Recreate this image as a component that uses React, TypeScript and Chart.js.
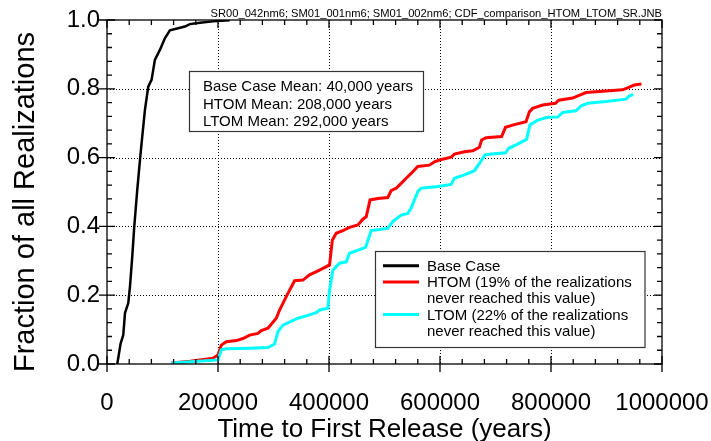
import React, { useEffect, useRef } from "react";
import { Chart, registerables } from "chart.js";

Chart.register(...registerables);

const FONT = '"Liberation Sans", Arial, Helvetica, sans-serif';

// Cumulative distribution of time to first release (years vs. fraction of realizations)
const baseCaseYears = [18500, 24600, 29300, 32400, 38300, 41400, 45500, 49100, 54500, 59400, 63500, 68300, 74300, 80300, 86300, 95300, 104300, 113300, 128200, 140300, 149300, 167300, 191200, 221200];
const baseCaseFraction = [0, 0.06, 0.084, 0.148, 0.177, 0.225, 0.312, 0.399, 0.506, 0.593, 0.661, 0.738, 0.806, 0.826, 0.884, 0.913, 0.947, 0.97, 0.976, 0.981, 0.988, 0.992, 0.996, 0.999];

const htomYears = [116000, 150000, 191000, 200000, 206000, 215000, 233000, 245000, 257000, 272000, 278000, 290000, 305000, 311000, 323000, 338000, 353000, 365000, 383000, 401000, 406000, 413000, 425000, 437000, 452000, 461000, 467000, 474000, 488000, 506000, 512000, 521000, 530000, 539000, 548000, 560000, 581000, 590000, 599000, 620000, 626000, 644000, 659000, 671000, 675000, 683000, 711000, 718000, 734000, 755000, 761000, 767000, 785000, 808000, 814000, 839000, 863000, 887000, 929000, 938000, 950000, 963000];
const htomFraction = [0.003, 0.008, 0.017, 0.026, 0.055, 0.065, 0.068, 0.074, 0.084, 0.089, 0.097, 0.104, 0.133, 0.157, 0.196, 0.242, 0.244, 0.259, 0.273, 0.288, 0.36, 0.38, 0.388, 0.397, 0.404, 0.421, 0.428, 0.477, 0.481, 0.484, 0.504, 0.511, 0.525, 0.54, 0.554, 0.574, 0.578, 0.588, 0.593, 0.601, 0.61, 0.617, 0.62, 0.63, 0.651, 0.658, 0.661, 0.688, 0.696, 0.704, 0.733, 0.743, 0.753, 0.758, 0.767, 0.773, 0.789, 0.792, 0.797, 0.803, 0.811, 0.814];

const ltomYears = [116000, 200000, 206000, 215000, 257000, 290000, 302000, 308000, 317000, 344000, 359000, 377000, 383000, 398000, 401000, 407000, 419000, 431000, 437000, 466000, 476000, 506000, 515000, 530000, 542000, 548000, 554000, 560000, 566000, 596000, 620000, 626000, 644000, 662000, 671000, 681000, 689000, 718000, 724000, 737000, 756000, 762000, 776000, 794000, 812000, 821000, 845000, 854000, 866000, 899000, 935000, 941000, 948000];
const ltomFraction = [0.003, 0.012, 0.041, 0.044, 0.046, 0.048, 0.058, 0.094, 0.113, 0.133, 0.14, 0.149, 0.157, 0.162, 0.215, 0.273, 0.293, 0.297, 0.322, 0.339, 0.388, 0.394, 0.414, 0.433, 0.438, 0.453, 0.477, 0.501, 0.511, 0.516, 0.522, 0.54, 0.55, 0.562, 0.583, 0.608, 0.61, 0.614, 0.627, 0.637, 0.653, 0.695, 0.709, 0.717, 0.718, 0.731, 0.736, 0.75, 0.758, 0.763, 0.77, 0.779, 0.784];

const xMajorTicks = [0, 200000, 400000, 600000, 800000, 1000000];
const yMajorTicks = [0, 0.2, 0.4, 0.6, 0.8, 1.0];
const xMinorStep = 40000;
const yMinorStep = 0.04;

const xAxisTitle = "Time to First Release (years)";
const yAxisTitle = "Fraction of all Realizations";
const headerText = "SR00_042nm6; SM01_001nm6; SM01_002nm6; CDF_comparison_HTOM_LTOM_SR.JNB";
const meanLines = ["Base Case Mean: 40,000 years", "HTOM Mean: 208,000 years", "LTOM Mean: 292,000 years"];
const legendLabels = [
  ["Base Case"],
  ["HTOM (19% of the realizations", "never reached this value)"],
  ["LTOM (22% of the realizations", "never reached this value)"],
];
const seriesColors = ["#000000", "#ff0000", "#00ffff"];

const toPoints = (xs: number[], ys: number[]) => xs.map((x, i) => ({ x, y: ys[i] }));

const decorPlugin = {
  id: "decor",
  beforeDatasetsDraw(chart: any) {
    const { ctx, chartArea: a, scales } = chart;
    const xs = scales.x;
    const ys = scales.y;
    ctx.save();
    ctx.strokeStyle = "#000";
    ctx.lineWidth = 1;
    ctx.setLineDash([1, 2]);
    xMajorTicks.slice(1, -1).forEach((v) => {
      const px = Math.round(xs.getPixelForValue(v)) + 0.5;
      ctx.beginPath();
      ctx.moveTo(px, a.top);
      ctx.lineTo(px, a.bottom);
      ctx.stroke();
    });
    yMajorTicks.slice(1, -1).forEach((v) => {
      const py = Math.round(ys.getPixelForValue(v)) + 0.5;
      ctx.beginPath();
      ctx.moveTo(a.left, py);
      ctx.lineTo(a.right, py);
      ctx.stroke();
    });
    ctx.restore();
  },
  afterDatasetsDraw(chart: any) {
    const { ctx, chartArea: a, scales } = chart;
    const xs = scales.x;
    const ys = scales.y;
    ctx.save();
    ctx.setLineDash([]);
    ctx.strokeStyle = "#000";
    ctx.lineWidth = 1.3;

    // plot frame
    ctx.strokeRect(a.left, a.top, a.right - a.left, a.bottom - a.top);

    // tick marks on all four sides
    ctx.beginPath();
    const nx = Math.round(1000000 / xMinorStep);
    for (let i = 0; i <= nx; i++) {
      const v = i * xMinorStep;
      const major = v % 200000 === 0;
      const px = xs.getPixelForValue(v);
      if (major) {
        ctx.moveTo(px, a.bottom + 8);
        ctx.lineTo(px, a.bottom - 8);
        ctx.moveTo(px, a.top);
        ctx.lineTo(px, a.top + 8);
      } else {
        ctx.moveTo(px, a.bottom);
        ctx.lineTo(px, a.bottom - 5);
        ctx.moveTo(px, a.top);
        ctx.lineTo(px, a.top + 5);
      }
    }
    const ny = Math.round(1 / yMinorStep);
    for (let i = 0; i <= ny; i++) {
      const v = i * yMinorStep;
      const major = i % 5 === 0;
      const py = ys.getPixelForValue(v);
      if (major) {
        ctx.moveTo(a.left - 8, py);
        ctx.lineTo(a.left + 8, py);
        ctx.moveTo(a.right - 8, py);
        ctx.lineTo(a.right, py);
      } else {
        ctx.moveTo(a.left, py);
        ctx.lineTo(a.left + 5, py);
        ctx.moveTo(a.right - 5, py);
        ctx.lineTo(a.right, py);
      }
    }
    ctx.stroke();

    // axis titles
    ctx.fillStyle = "#000";
    ctx.textBaseline = "alphabetic";
    ctx.textAlign = "center";
    ctx.font = `26px ${FONT}`;
    ctx.fillText(xAxisTitle, (a.left + a.right) / 2, 437);
    ctx.save();
    ctx.translate(34, 202);
    ctx.rotate(-Math.PI / 2);
    ctx.font = `29px ${FONT}`;
    ctx.fillText(yAxisTitle, 0, 0);
    ctx.restore();

    // file reference line above the frame
    ctx.font = `11.15px ${FONT}`;
    ctx.textAlign = "right";
    ctx.fillText(headerText, a.right, 17);

    // mean values box
    ctx.lineWidth = 1.2;
    const mb = { x: 189.5, y: 71.5, w: 234, h: 60 };
    ctx.fillStyle = "#fff";
    ctx.fillRect(mb.x, mb.y, mb.w, mb.h);
    ctx.strokeStyle = "#333";
    ctx.strokeRect(mb.x, mb.y, mb.w, mb.h);
    ctx.fillStyle = "#000";
    ctx.font = `15px ${FONT}`;
    ctx.textAlign = "left";
    meanLines.forEach((t, i) => ctx.fillText(t, 203, 90.7 + i * 17.8));

    // legend box
    const lb = { x: 375.5, y: 251.5, w: 269.5, h: 96 };
    ctx.fillStyle = "#fff";
    ctx.fillRect(lb.x, lb.y, lb.w, lb.h);
    ctx.strokeStyle = "#333";
    ctx.strokeRect(lb.x, lb.y, lb.w, lb.h);
    let baseline = 270.7;
    legendLabels.forEach((lines, i) => {
      ctx.strokeStyle = seriesColors[i];
      ctx.lineWidth = 3;
      ctx.beginPath();
      ctx.moveTo(383, baseline - 5);
      ctx.lineTo(419, baseline - 5);
      ctx.stroke();
      ctx.fillStyle = "#000";
      lines.forEach((t) => {
        ctx.fillText(t, 427, baseline);
        baseline += 16.3;
      });
    });
    ctx.restore();
  },
};

export default function App() {
  const canvasRef = useRef<HTMLCanvasElement | null>(null);

  useEffect(() => {
    const canvas = canvasRef.current;
    if (!canvas) return;
    const chart = new Chart(canvas, {
      type: "scatter",
      data: {
        datasets: [
          {
            label: "Base Case",
            data: toPoints(baseCaseYears, baseCaseFraction),
            borderColor: seriesColors[0],
            borderWidth: 2.5,
            showLine: true,
            pointRadius: 0,
            order: 2,
          },
          {
            label: "HTOM",
            data: toPoints(htomYears, htomFraction),
            borderColor: seriesColors[1],
            borderWidth: 3,
            showLine: true,
            pointRadius: 0,
            order: 1,
          },
          {
            label: "LTOM",
            data: toPoints(ltomYears, ltomFraction),
            borderColor: seriesColors[2],
            borderWidth: 3,
            showLine: true,
            pointRadius: 0,
            order: 0,
          },
        ],
      },
      options: {
        responsive: false,
        animation: false,
        devicePixelRatio: 1,
        layout: { padding: { top: 20, right: 49, left: 0, bottom: 0 } },
        plugins: {
          legend: { display: false },
          tooltip: { enabled: false },
        },
        scales: {
          x: {
            type: "linear",
            min: 0,
            max: 1000000,
            // tick marks are drawn by the decor plugin; tickLength only spaces the labels
            grid: { display: false, drawTicks: true, tickLength: 25 },
            border: { display: false },
            ticks: {
              stepSize: 200000,
              autoSkip: false,
              maxRotation: 0,
              padding: 0,
              color: "#000",
              font: { family: FONT, size: 24 },
              callback: (v: any) => String(v),
            },
            afterFit: (s: any) => {
              s.height = 77;
            },
          },
          y: {
            type: "linear",
            min: 0,
            max: 1,
            grid: { display: false, drawTicks: true, tickLength: 7 },
            border: { display: false },
            ticks: {
              stepSize: 0.2,
              autoSkip: false,
              padding: 0,
              color: "#000",
              font: { family: FONT, size: 24 },
              callback: (v: any) => Number(v).toFixed(1),
            },
            afterFit: (s: any) => {
              s.width = 107;
            },
          },
        },
      },
      plugins: [decorPlugin],
    });
    return () => chart.destroy();
  }, []);

  return (
    <div style={{ position: "fixed", left: 0, top: 0, width: 711, height: 441, background: "#fff" }}>
      <canvas ref={canvasRef} width={711} height={441} />
    </div>
  );
}
